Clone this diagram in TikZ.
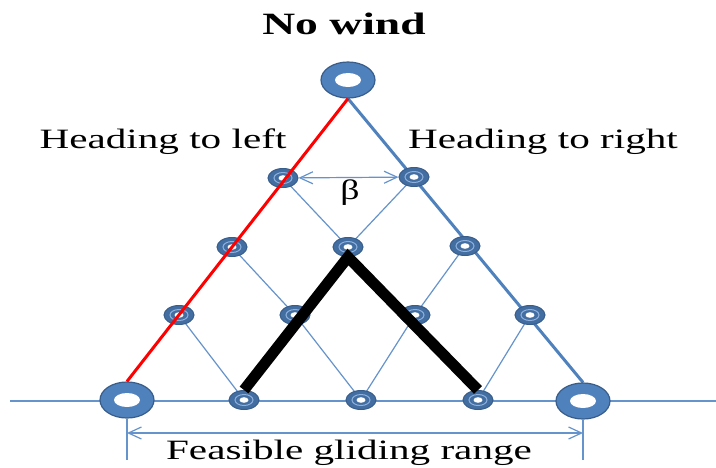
\documentclass[tikz,border=0pt]{standalone}
\usepackage{fontspec}
\setmainfont{Liberation Serif}
\usetikzlibrary{arrows.meta,shapes.geometric,backgrounds}
\definecolor{ringblue}{HTML}{4F81BD}
\definecolor{ringdark}{HTML}{385D8A}
\definecolor{lineblue}{HTML}{6593CC}
\definecolor{lightring}{HTML}{8DB0DD}
\tikzset{
  bigring/.style={ellipse, inner sep=0pt, minimum width=54pt, minimum height=36pt,
    fill=ringblue, draw=ringdark, line width=1.2pt,
    path picture={\fill[white] (path picture bounding box.center) ellipse [x radius=13pt, y radius=7pt];}},
  smallring/.style={ellipse, inner sep=0pt, minimum width=30pt, minimum height=19pt,
    fill=ringblue!85!black, draw=ringdark, line width=1pt,
    path picture={\draw[lightring,line width=1pt] (path picture bounding box.center) ellipse [x radius=9pt, y radius=5.5pt];
      \fill[white] (path picture bounding box.center) ellipse [x radius=4.5pt, y radius=2.8pt];}},
  gridline/.style={draw=lineblue, line width=1.2pt},
  lbl/.style={font=\fontsize{28}{32}\selectfont, anchor=base, inner sep=0pt},
  barbs/.style={arrows={Straight Barb[length=13pt,width=12pt]-Straight Barb[length=13pt,width=12pt]}}
}
\begin{document}
\begin{tikzpicture}[x=1pt,y=-1pt]
\useasboundingbox (0,0) rectangle (716,467);
% rings
\node[bigring] (t) at (348,80) {};
\node[bigring] (bl) at (127,400) {};
\node[bigring] (br) at (583,401) {};
\node[smallring] (a1) at (283,178) {};
\node[smallring] (b1) at (414,177) {};
\node[smallring] (a2) at (232,247) {};
\node[smallring] (m2) at (348,247) {};
\node[smallring] (c2) at (465,246) {};
\node[smallring] (a3) at (179,315) {};
\node[smallring] (b3) at (295,315) {};
\node[smallring] (c3) at (415,315) {};
\node[smallring] (d3) at (530,315) {};
\node[smallring] (a4) at (244,400) {};
\node[smallring] (b4) at (361,400) {};
\node[smallring] (c4) at (478,400) {};
\coordinate (L) at (10,401);
\coordinate (R) at (716,401);
\begin{scope}[on background layer]
  \draw[gridline] (L) -- (R);
  \draw[gridline] (a1.center) -- (m2.center) -- (b1.center);
  \draw[gridline] (a2.center) -- (b3.center) -- (b4.center) -- (c3.center) -- (c2.center);
  \draw[gridline] (a3.center) -- (a4.center);
  \draw[gridline] (d3.center) -- (c4.center);
  \draw[ringblue, line width=3pt] (t.south) -- (br.north);
\end{scope}
% heading lines
\draw[red, line width=3pt] (t.south) -- (bl.north);
\draw[black, line width=11pt, miter limit=10] (a4.north) -- (m2.south) -- (c4.north);
% beta
\draw[gridline, barbs] (a1) -- (b1);
\node[lbl] (beta) at (350,199) {\scalebox{1.35}[1]{β}};
% range
\coordinate (vl) at (127,460);
\coordinate (vr) at (583,460);
\coordinate (al) at (127,433);
\coordinate (ar) at (583,433);
\draw[gridline] (bl) -- (vl);
\draw[gridline] (br) -- (vr);
\draw[gridline, barbs] (al) -- (ar);
% texts
\node[lbl, font=\fontsize{31}{35}\selectfont\bfseries] (nw) at (344,34) {\scalebox{1.47}[1]{No wind}};
\node[lbl] (hl) at (163,148) {\scalebox{1.47}[1]{Heading to left}};
\node[lbl] (hr) at (543,148) {\scalebox{1.47}[1]{Heading to right}};
\node[lbl] (fr) at (349,459) {\scalebox{1.47}[1]{Feasible gliding range}};
\end{tikzpicture}
\end{document}
